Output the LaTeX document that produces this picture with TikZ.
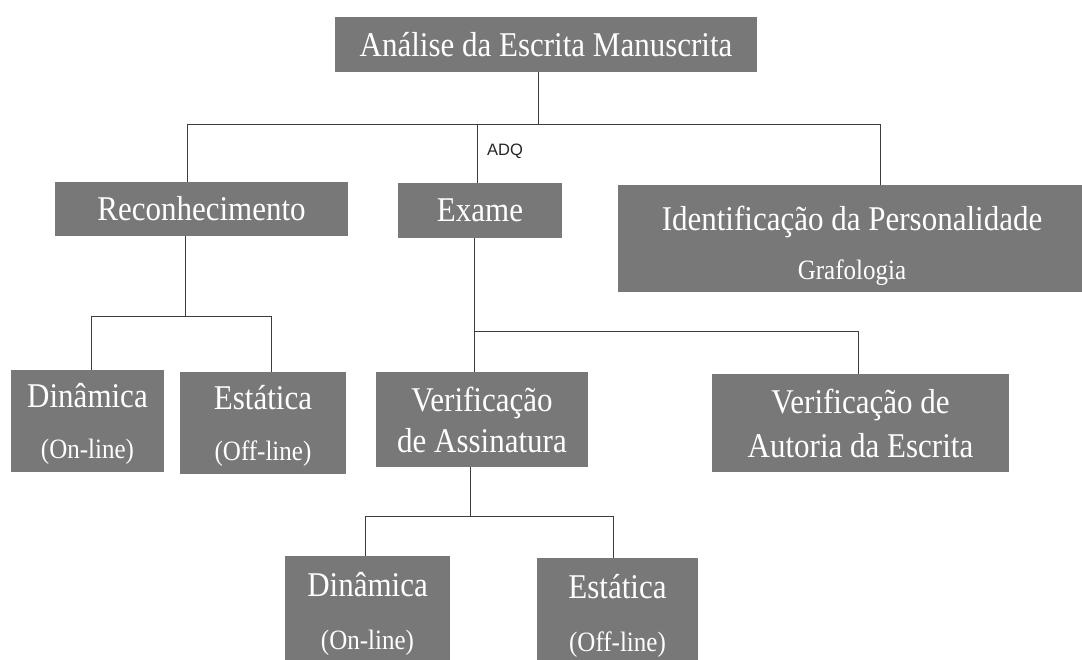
\documentclass[tikz,border=0pt]{standalone}
\usepackage{fontspec}
\usepackage{graphicx}
\setmainfont{Liberation Serif}
\newfontfamily\adqfont{Liberation Sans}
\definecolor{boxgray}{RGB}{120,120,120}
\definecolor{linegray}{RGB}{60,60,60}
\newcommand{\tallx}[1]{\scalebox{1}[1.12]{#1}}
\newcommand{\subtxt}[1]{{\fontsize{25}{37}\selectfont\scalebox{1}[1.12]{#1}}}
\newcommand{\boxfont}{\fontsize{31}{37}\selectfont\lineskiplimit=-100pt\relax}
\begin{document}
\begin{tikzpicture}[x=1pt,y=-1pt,
  box/.style={fill=boxgray, text=white, inner sep=0pt, align=center,
    font=\boxfont},
  conn/.style={draw=linegray, line width=1pt}]
\useasboundingbox (0,0) rectangle (1082,659);
\clip (0,0) rectangle (1082,659);
\fill[white] (0,0) rectangle (1082,659);

% boxes
\node[box, minimum width=422pt, minimum height=55pt] (top) at (546,44.5) {\tallx{Análise da Escrita Manuscrita}};
\node[box, minimum width=293pt, minimum height=54pt] (rec) at (201.5,209) {\tallx{Reconhecimento}};
\node[box, minimum width=164pt, minimum height=55pt] (exame) at (480,210.5) {\tallx{Exame}};
\node[box, minimum width=468pt, minimum height=107pt] (ident) at (852,238.5) {\rule{0pt}{40pt}\tallx{Identificação da Personalidade}\\[12pt]\subtxt{Grafologia}};
\node[box, minimum width=153pt, minimum height=102pt] (din1) at (87.5,421) {\rule{0pt}{30pt}\tallx{Dinâmica}\\[14pt]\subtxt{(On-line)}};
\node[box, minimum width=166pt, minimum height=102pt] (est1) at (263,423) {\rule{0pt}{30pt}\tallx{Estática}\\[14pt]\subtxt{(Off-line)}};
\node[box, minimum width=212pt, minimum height=95pt] (verif) at (482,419.5) {\tallx{Verificação}\\[4pt]\tallx{de Assinatura}};
\node[box, minimum width=297pt, minimum height=98pt] (autoria) at (860.5,423) {\tallx{Verificação de}\\[7pt]\tallx{Autoria da Escrita}};
\node[box, minimum width=165pt, minimum height=110pt] (din2) at (367.5,611) {\rule{0pt}{30pt}\tallx{Dinâmica}\\[16pt]\subtxt{(On-line)}};
\node[box, minimum width=161pt, minimum height=110pt] (est2) at (617.5,613) {\rule{0pt}{30pt}\tallx{Estática}\\[16pt]\subtxt{(Off-line)}};

\node[font=\adqfont\fontsize{16.5}{19}\selectfont, text=black!85, inner sep=0pt] (adq) at (505,151) {ADQ};

% bus coordinates
\coordinate (j1) at (538,124);
\coordinate (b1L) at (187,124);
\coordinate (b1E) at (477,124);
\coordinate (b1R) at (880,124);
\coordinate (j2) at (185,316);
\coordinate (b2L) at (91,316);
\coordinate (b2R) at (271,316);
\coordinate (j3) at (474,331);
\coordinate (b3R) at (858,331);
\coordinate (j4) at (470,516);
\coordinate (b4L) at (365,516);
\coordinate (b4R) at (613,516);

% connectors
\draw[conn] (j1 |- top.south) -- (j1);
\draw[conn] (b1L |- rec.north) -- (b1L) -- (b1R) -- (b1R |- ident.north);
\draw[conn] (b1E) -- (b1E |- exame.north);
\draw[conn] (j2 |- rec.south) -- (j2);
\draw[conn] (b2L |- din1.north) -- (b2L) -- (b2R) -- (b2R |- est1.north);
\draw[conn] (j3 |- exame.south) -- (j3 |- verif.north);
\draw[conn] (j3) -- (b3R) -- (b3R |- autoria.north);
\draw[conn] (j4 |- verif.south) -- (j4);
\draw[conn] (b4L |- din2.north) -- (b4L) -- (b4R) -- (b4R |- est2.north);
\end{tikzpicture}
\end{document}
